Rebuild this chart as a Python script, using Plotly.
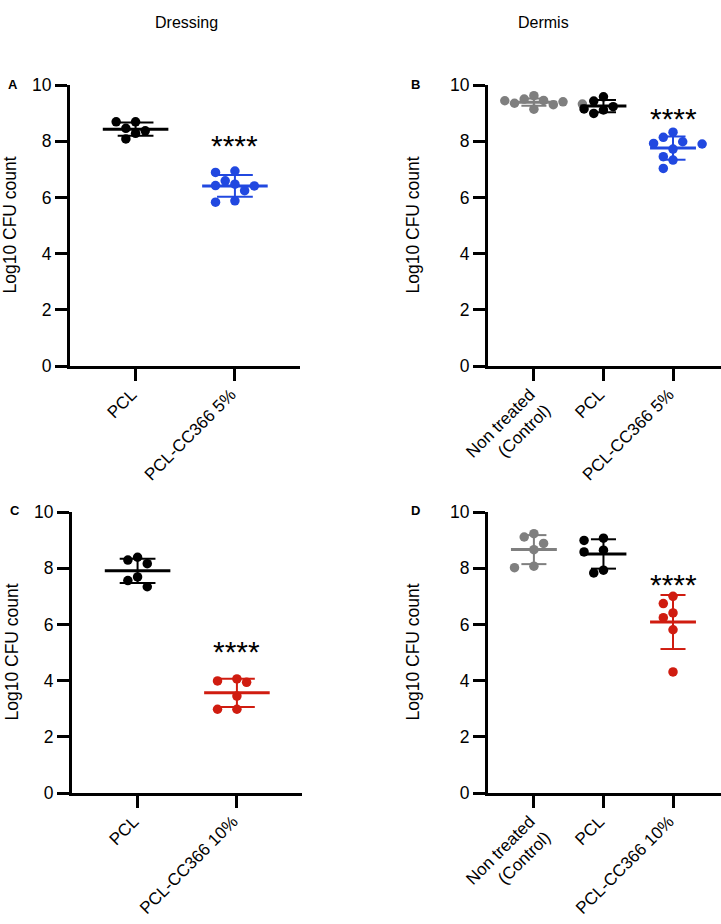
import plotly.graph_objects as go
import numpy as np

W, H = 721, 924

# ---------------- data ----------------
col_titles = ["Dressing", "Dermis"]
panel_letters = ["A", "B", "C", "D"]
y_title = "Log10 CFU count"
y_ticks = [0, 2, 4, 6, 8, 10]

cats_A = ["PCL", "PCL-CC366 5%"]
A_pcl = [8.46, 8.69, 8.69, 8.08, 8.28, 8.37]
A_cc5 = [6.94, 6.89, 6.59, 6.42, 6.47, 6.41, 6.24, 5.83, 5.88]

cats_B = ["Non treated<br>(Control)", "PCL", "PCL-CC366 5%"]
B_ctrl = [9.32, 9.44, 9.62, 9.14, 9.45, 9.38, 9.40, 9.30, 9.50, 9.35]
B_pcl = [9.43, 9.58, 9.23, 8.99, 9.11, 9.15]
B_cc5 = [8.32, 8.14, 7.92, 7.90, 7.98, 7.72, 7.45, 7.33, 7.03]

cats_C = ["PCL", "PCL-CC366 10%"]
C_pcl = [8.29, 8.39, 8.16, 7.69, 7.56, 7.34]
C_cc10 = [4.06, 3.94, 3.99, 3.45, 2.98, 2.98]

cats_D = ["Non treated<br>(Control)", "PCL", "PCL-CC366 10%"]
D_ctrl = [9.11, 9.23, 8.88, 8.66, 8.02, 8.07]
D_pcl = [8.99, 9.07, 8.58, 8.64, 7.83, 7.93]
D_cc10 = [7.00, 6.74, 6.41, 6.24, 5.81, 4.31]

sig_label = "****"
sig_y = [8.05, 9.03, 5.25, 7.63]

# ---------------- styles ----------------
BLACK = "#000000"
GRAY = "#7f7f7f"
BLUE = "#2148e0"
RED = "#d01c10"
FONT = "Liberation Sans, Arial, sans-serif"

panels = [
    dict(cats=cats_A, groups=[A_pcl, A_cc5], colors=[BLACK, BLUE],
         px=(70, 300), py=(85, 366), ytitle_off=61, letter_off=64),
    dict(cats=cats_B, groups=[B_ctrl, B_pcl, B_cc5], colors=[GRAY, BLACK, BLUE],
         px=(488, 721), py=(85, 366), ytitle_off=76, letter_off=79),
    dict(cats=cats_C, groups=[C_pcl, C_cc10], colors=[BLACK, RED],
         px=(72, 302), py=(512, 793), ytitle_off=61, letter_off=64),
    dict(cats=cats_D, groups=[D_ctrl, D_pcl, D_cc10], colors=[GRAY, BLACK, RED],
         px=(488, 721), py=(512, 793), ytitle_off=76, letter_off=79),
]

MARKER = 9.5
STEP = 9.7
MEAN_HW = 0.33
CAP_HW = 0.18


def swarm(values, px_per_x, px_per_y, step=STEP, diam=10.0):
    placed = []
    offs = [0.0] * len(values)
    order = sorted(range(len(values)), key=lambda i: -values[i])
    cands = [0]
    for k in range(1, 10):
        cands += [-k, k]
    for i in order:
        yv = values[i] * px_per_y
        for c in cands:
            xo = c * step
            if all((xo - a) ** 2 + (yv - b) ** 2 >= diam ** 2 for a, b in placed):
                placed.append((xo, yv))
                offs[i] = xo / px_per_x
                break
    return offs


fig = go.Figure()
layout = dict(
    width=W, height=H,
    margin=dict(l=0, r=0, t=0, b=0, pad=0),
    paper_bgcolor="white", plot_bgcolor="white",
    showlegend=False,
    font=dict(family=FONT, color="black", size=16),
)
annotations = []

for n, p in enumerate(panels):
    idx = "" if n == 0 else str(n + 1)
    xa, ya = "x" + idx, "y" + idx
    ncat = len(p["cats"])
    x0, x1 = p["px"]
    y0, y1 = p["py"]
    if ncat == 2:
        xr = [-0.66, 1.655]
    else:
        xr = [-0.66, 2.69]
    px_per_x = (x1 - x0) / (xr[1] - xr[0])
    px_per_y = (y1 - y0) / 10.0

    for g, (vals, colr) in enumerate(zip(p["groups"], p["colors"])):
        vals = np.array(vals, dtype=float)
        m = vals.mean()
        sd = vals.std(ddof=1)
        fig.add_trace(go.Scatter(
            x=[g, g, None, g - CAP_HW, g + CAP_HW, None, g - CAP_HW, g + CAP_HW],
            y=[m - sd, m + sd, None, m + sd, m + sd, None, m - sd, m - sd],
            mode="lines", line=dict(color=colr, width=2),
            xaxis=xa, yaxis=ya, hoverinfo="skip", cliponaxis=False))
        fig.add_trace(go.Scatter(
            x=[g - MEAN_HW, g + MEAN_HW], y=[m, m],
            mode="lines", line=dict(color=colr, width=3),
            xaxis=xa, yaxis=ya, hoverinfo="skip", cliponaxis=False))
        offs = swarm(list(vals), px_per_x, px_per_y)
        fig.add_trace(go.Scatter(
            x=[g + o for o in offs], y=list(vals),
            mode="markers", marker=dict(color=colr, size=MARKER, line=dict(width=0)),
            xaxis=xa, yaxis=ya, cliponaxis=False))

    annotations.append(dict(
        x=ncat - 1, y=sig_y[n], xref=xa, yref=ya, text=sig_label,
        showarrow=False, font=dict(size=30, family=FONT, color="black"),
        yanchor="middle", yshift=-6))

    layout["xaxis" + idx] = dict(
        domain=[x0 / W, x1 / W], range=xr, anchor=ya, automargin=False,
        tickmode="array", tickvals=list(range(ncat)), ticktext=p["cats"],
        tickangle=-45, showline=True, linecolor="black", linewidth=3,
        ticks="outside", ticklen=12, tickwidth=3, tickcolor="black",
        ticklabelstandoff=-3, ticklabelshift=-4,
        showgrid=False, zeroline=False, fixedrange=True,
        tickfont=dict(size=17, family=FONT, color="black"))
    layout["yaxis" + idx] = dict(
        domain=[1 - y1 / H, 1 - y0 / H], range=[0, 10], anchor=xa, automargin=False,
        tickmode="array", tickvals=y_ticks,
        showline=True, linecolor="black", linewidth=3,
        ticks="outside", ticklen=12, tickwidth=3, tickcolor="black",
        showgrid=False, zeroline=False, fixedrange=True,
        tickfont=dict(size=17.5, family=FONT, color="black"))

    annotations.append(dict(
        x=(x0 - p["ytitle_off"]) / W, y=1 - (y0 + y1) / 2 / H, xref="paper", yref="paper",
        text=y_title, textangle=-90, showarrow=False,
        font=dict(size=17.5, family=FONT, color="black"),
        xanchor="center", yanchor="middle"))
    annotations.append(dict(
        x=(x0 - p["letter_off"]) / W, y=1 - (y0 - 1) / H,
        xref="paper", yref="paper", text="<b>%s</b>" % panel_letters[n],
        showarrow=False, font=dict(size=13, family=FONT, color="black"),
        xanchor="left", yanchor="middle"))

for c, t in enumerate(col_titles):
    cx = [186, 543][c]
    annotations.append(dict(
        x=cx / W, y=1 - 22 / H, xref="paper", yref="paper", text=t,
        showarrow=False, font=dict(size=16, family=FONT, color="black"),
        xanchor="center", yanchor="middle"))

layout["annotations"] = annotations
fig.update_layout(**layout)
fig.write_html(
    "out.html",
    config={"displayModeBar": False},
    post_script="document.body.style.margin='0';document.body.style.padding='0';",
)
